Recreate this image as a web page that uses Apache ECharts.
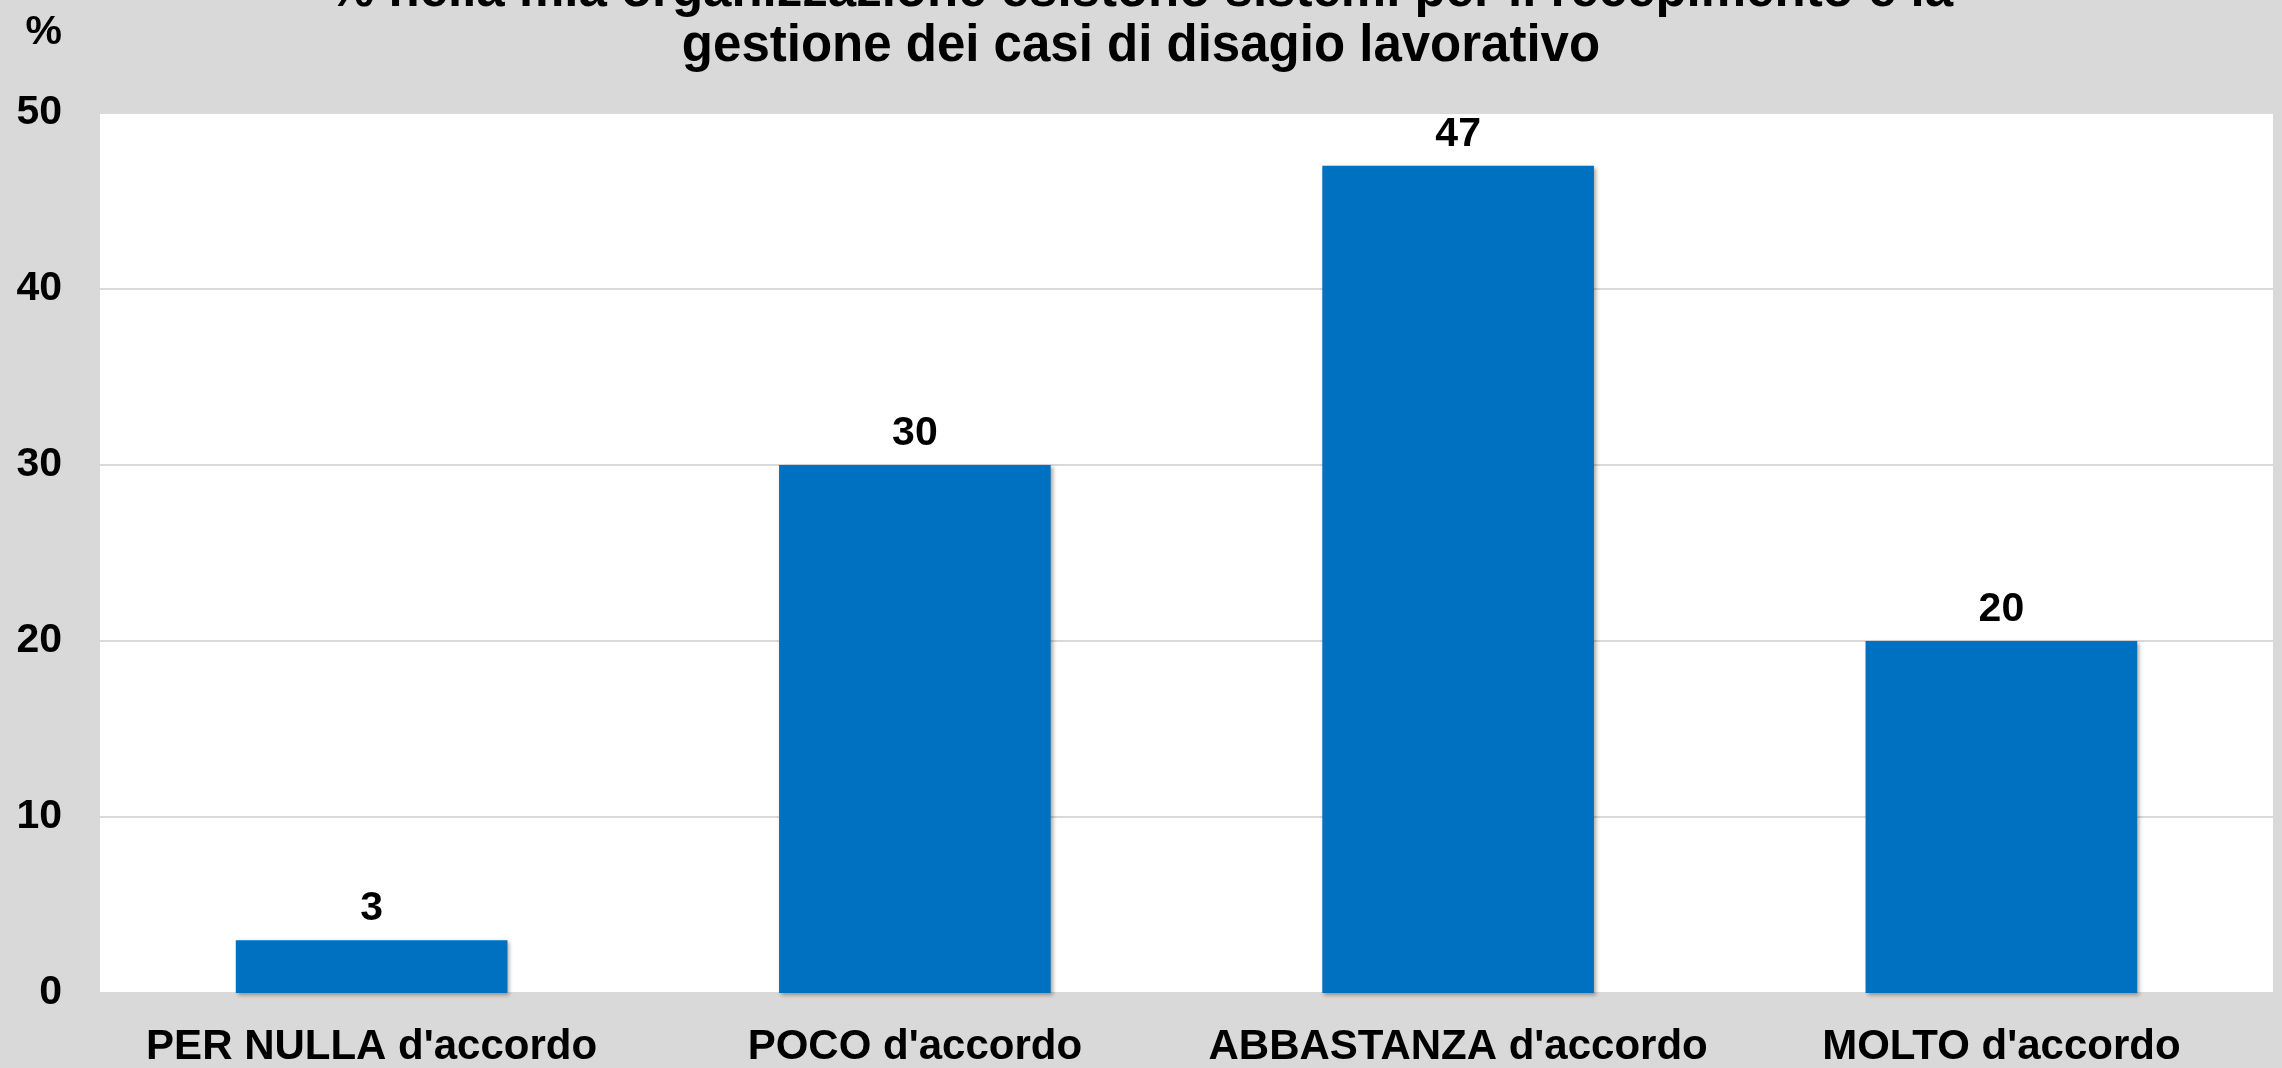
<!DOCTYPE html>
<html>
<head>
<meta charset="utf-8">
<style>
  html, body { margin: 0; padding: 0; background: #d9d9d9; }
  #chart { width: 2282px; height: 1068px; }
</style>
<script src="https://cdn.jsdelivr.net/npm/echarts@6/dist/echarts.min.js"></script>
</head>
<body>
<div id="chart"></div>
<script>
const titleLines = ["% nella mia organizzazione esistono sistemi per il recepimento e la", "gestione dei casi di disagio lavorativo"];
const categories = ["PER NULLA d'accordo", "POCO d'accordo", "ABBASTANZA d'accordo", "MOLTO d'accordo"];
const values = [3, 30, 47, 20];
const yTicks = [0, 10, 20, 30, 40, 50];

const font = "'Liberation Sans', Arial, sans-serif";
const chart = echarts.init(document.getElementById("chart"));

const option = {
  backgroundColor: "#d9d9d9",
  animation: false,
  title: {
    text: titleLines.join("\n"),
    left: "center",
    top: -41,
    padding: [5, 5, 5, 23],
    textStyle: {
      fontFamily: font,
      fontSize: 51,
      fontWeight: "bold",
      color: "#000",
      lineHeight: 55
    }
  },
  grid: {
    left: 100,
    right: 9,
    top: 113,
    bottom: 72,
    show: true,
    backgroundColor: "#ffffff",
    borderWidth: 0
  },
  xAxis: {
    type: "category",
    data: categories,
    axisLine: { show: false },
    axisTick: { show: false },
    axisLabel: {
      margin: 33,
      fontFamily: font,
      fontSize: 42,
      fontWeight: "bold",
      color: "#000",
      interval: 0
    }
  },
  yAxis: {
    type: "value",
    min: yTicks[0],
    max: yTicks[yTicks.length - 1],
    interval: 10,
    name: "%",
    nameLocation: "end",
    nameGap: 80,
    nameTextStyle: {
      fontFamily: font,
      fontSize: 41,
      fontWeight: "bold",
      color: "#000",
      align: "right",
      verticalAlign: "middle",
      padding: [0, 38, 0, 0]
    },
    axisLine: { show: false },
    axisTick: { show: false },
    axisLabel: {
      margin: 38,
      fontFamily: font,
      fontSize: 41,
      fontWeight: "bold",
      color: "#000"
    },
    splitLine: {
      lineStyle: { color: "#d9d9d9", width: 2 }
    }
  },
  series: [
    {
      type: "bar",
      data: values,
      barWidth: "50%",
      itemStyle: {
        color: "#0070c0",
        shadowColor: "rgba(0,0,0,0.35)",
        shadowBlur: 4,
        shadowOffsetX: 2,
        shadowOffsetY: 2
      },
      label: {
        show: true,
        position: "top",
        distance: 11,
        fontFamily: font,
        fontSize: 41,
        fontWeight: "bold",
        color: "#000"
      }
    }
  ]
};

chart.setOption(option);
</script>
</body>
</html>
